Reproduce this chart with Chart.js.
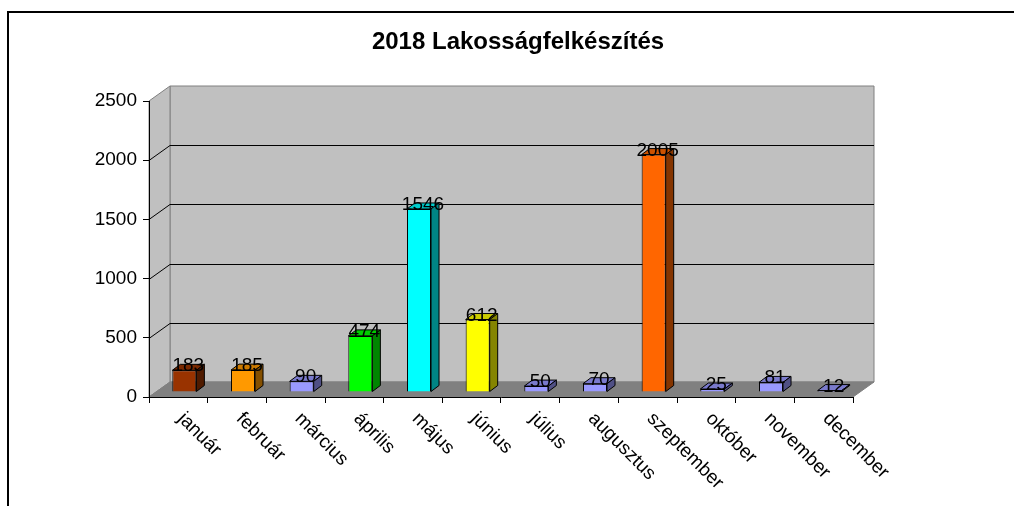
<!DOCTYPE html>
<html>
<head>
<meta charset="utf-8">
<title>2018 Lakosságfelkészítés</title>
<script src="https://cdn.jsdelivr.net/npm/chart.js@4.4.1/dist/chart.umd.min.js"></script>
<style>
  html, body { margin: 0; padding: 0; background: #fff; }
  canvas { display: block; }
</style>
</head>
<body>
<canvas id="chart" width="1014" height="506"></canvas>
<script>
// chart data
const months = ['január', 'február', 'március', 'április', 'május', 'június',
                'július', 'augusztus', 'szeptember', 'október', 'november', 'december'];
const values = [183, 185, 90, 474, 1546, 612, 50, 70, 2005, 25, 81, 12];
const barColors = ['#993300', '#ff9900', '#9999ff', '#00ff00', '#00ffff', '#ffff00',
                   '#9999ff', '#9999ff', '#ff6600', '#9999ff', '#9999ff', '#9999ff'];
const yTicks = [0, 500, 1000, 1500, 2000, 2500];

const FONT = "'Liberation Sans', Arial, sans-serif";

// 3D look: wall depth and where the bars sit inside it
const WALL = { dx: 21, dy: -15 };
const SHIFT = { dx: 6, dy: -5 };
const BAR = { dx: 8, dy: -6 };

function shade(hex, f) {
    const n = parseInt(hex.slice(1), 16);
    const r = Math.round(((n >> 16) & 255) * f);
    const g = Math.round(((n >> 8) & 255) * f);
    const b = Math.round((n & 255) * f);
    return `rgb(${r},${g},${b})`;
}

function poly(ctx, pts, fill, stroke) {
    ctx.beginPath();
    ctx.moveTo(pts[0][0], pts[0][1]);
    for (let i = 1; i < pts.length; i++) ctx.lineTo(pts[i][0], pts[i][1]);
    ctx.closePath();
    if (fill) { ctx.fillStyle = fill; ctx.fill(); }
    if (stroke) { ctx.strokeStyle = stroke; ctx.lineWidth = 1; ctx.stroke(); }
}

const threeD = {
    id: 'threeD',
    beforeDraw(chart) {
        const ctx = chart.ctx;
        const a = chart.chartArea;
        const y = chart.scales.y;
        const L = a.left, R = a.right, T = a.top, B = a.bottom;
        const dx = WALL.dx, dy = WALL.dy;

        ctx.save();
        ctx.fillStyle = '#fff';
        ctx.fillRect(0, 0, chart.width, chart.height);

        // frame
        ctx.strokeStyle = '#000';
        ctx.lineWidth = 2;
        ctx.beginPath();
        ctx.moveTo(8, chart.height);
        ctx.lineTo(8, 12);
        ctx.lineTo(chart.width, 12);
        ctx.stroke();

        // back wall, side wall, floor
        poly(ctx, [[L + dx, T + dy], [R + dx, T + dy], [R + dx, B + dy], [L + dx, B + dy]], '#c0c0c0', '#808080');
        poly(ctx, [[L, T], [L + dx, T + dy], [L + dx, B + dy], [L, B]], '#c0c0c0', '#808080');
        poly(ctx, [[L, B], [L + dx, B + dy], [R + dx, B + dy], [R, B]], '#808080', '#808080');

        // grid lines on the walls
        ctx.strokeStyle = '#000';
        ctx.lineWidth = 1;
        yTicks.forEach(v => {
            if (v === 0 || v === yTicks[yTicks.length - 1]) return;
            const py = Math.round(y.getPixelForValue(v)) + 0.5;
            ctx.beginPath();
            ctx.moveTo(L, py);
            ctx.lineTo(L + dx, py + dy);
            ctx.lineTo(R + dx, py + dy);
            ctx.stroke();
        });
        ctx.restore();
    },
    beforeDatasetsDraw(chart) {
        chart.ctx.save();
        chart.ctx.translate(SHIFT.dx, SHIFT.dy);
    },
    afterDatasetsDraw(chart) {
        const ctx = chart.ctx;
        const meta = chart.getDatasetMeta(0);
        meta.data.forEach((bar, i) => {
            const p = bar.getProps(['x', 'y', 'base', 'width'], true);
            const l = p.x - p.width / 2, r = p.x + p.width / 2;
            const t = p.y, b = p.base;
            const c = barColors[i];
            poly(ctx, [[l, t], [l + BAR.dx, t + BAR.dy], [r + BAR.dx, t + BAR.dy], [r, t]], shade(c, 0.8), '#000');
            poly(ctx, [[r, t], [r + BAR.dx, t + BAR.dy], [r + BAR.dx, b + BAR.dy], [r, b]], shade(c, 0.52), '#000');
        });
        ctx.restore();

        // value labels
        ctx.save();
        ctx.font = '19px ' + FONT;
        ctx.fillStyle = '#000';
        ctx.textAlign = 'center';
        ctx.textBaseline = 'alphabetic';
        meta.data.forEach((bar, i) => {
            ctx.fillText(String(values[i]), bar.x + SHIFT.dx + BAR.dx / 2, bar.y + SHIFT.dy + 1);
        });
        ctx.restore();
    },
    afterDraw(chart) {
        const ctx = chart.ctx;
        const x = chart.scales.x;
        ctx.save();
        // title
        ctx.font = 'bold 24px ' + FONT;
        ctx.fillStyle = '#000';
        ctx.textAlign = 'center';
        ctx.textBaseline = 'middle';
        ctx.fillText('2018 Lakosságfelkészítés', 518, 42);

        // rotated month labels
        ctx.font = '19px ' + FONT;
        ctx.textAlign = 'left';
        ctx.textBaseline = 'top';
        months.forEach((m, i) => {
            ctx.save();
            ctx.translate(x.getPixelForValue(i) + 9, chart.chartArea.bottom + 12);
            ctx.rotate(Math.PI / 4);
            ctx.fillText(m, 0, 0);
            ctx.restore();
        });
        ctx.restore();
    }
};

Chart.defaults.font.family = FONT;
Chart.defaults.color = '#000';

new Chart(document.getElementById('chart'), {
    type: 'bar',
    data: {
        labels: months,
        datasets: [{
            data: values,
            backgroundColor: barColors,
            borderColor: '#000',
            borderWidth: 1,
            categoryPercentage: 1,
            barPercentage: 0.41
        }]
    },
    options: {
        responsive: false,
        animation: false,
        layout: { padding: { top: 101, right: 161, bottom: 0, left: 0 } },
        plugins: {
            legend: { display: false },
            tooltip: { enabled: false },
            title: { display: false }
        },
        scales: {
            x: {
                ticks: { display: false },
                grid: { drawOnChartArea: false, drawTicks: true, tickLength: 6, color: '#000' },
                border: { color: '#000', width: 1 },
                afterFit(scale) { scale.height = 109; }
            },
            y: {
                min: 0,
                max: 2500,
                ticks: { stepSize: 500, padding: 6, font: { size: 19 }, callback: v => String(v) },
                grid: { drawOnChartArea: false, drawTicks: true, tickLength: 6, color: '#000' },
                border: { color: '#000', width: 1 },
                afterFit(scale) { scale.width = 149; }
            }
        }
    },
    plugins: [threeD]
});
</script>
</body>
</html>
